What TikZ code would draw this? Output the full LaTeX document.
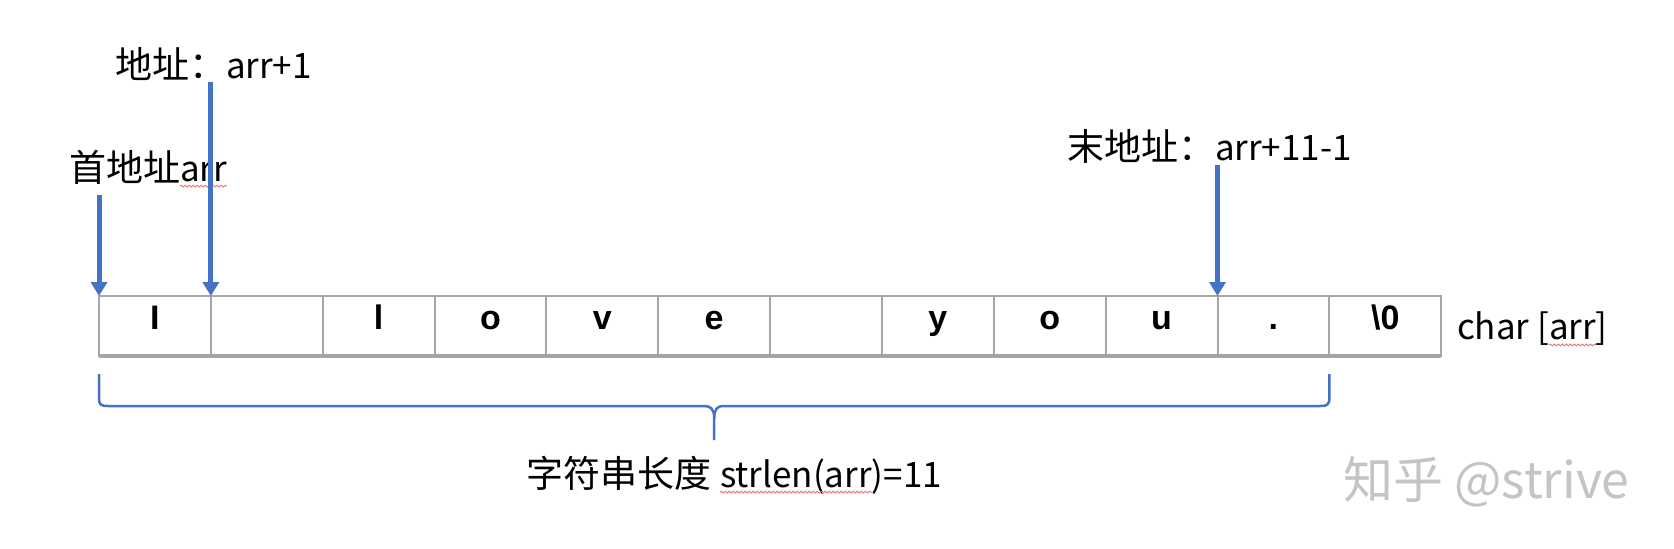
\documentclass[tikz,border=0pt]{standalone}
\usepackage{fontspec}
\setmainfont{Liberation Sans}
\newfontfamily\cjk{Noto Sans CJK SC}
\usetikzlibrary{arrows.meta,decorations.pathmorphing}
\definecolor{arrblue}{HTML}{4472C4}
\definecolor{cellgray}{HTML}{A6A6A6}
\definecolor{squigred}{HTML}{E07878}
\definecolor{wmgray}{HTML}{C4C4C4}
\newcommand\zhtxt[1]{{\fontsize{37}{40}\selectfont #1}}
\begin{document}
\begin{tikzpicture}[x=1pt,y=-1pt,
  cellbox/.style={draw=cellgray, line width=2pt, minimum width=111.85pt, minimum height=60pt,
    inner sep=0pt, outer sep=0pt, font=\fontsize{34}{40}\selectfont\bfseries,
    text height=0.72em, text depth=0pt},
  ptr/.style={draw=arrblue, line width=5pt, -{Triangle[width=16pt,length=14pt]}},
  lbl/.style={font=\cjk\fontsize{35}{40}\selectfont, inner sep=0pt, outer sep=0pt},
  squig/.style={draw=squigred, line width=0.9pt, decorate,
    decoration={snake, amplitude=0.9pt, segment length=4pt}},
  bracelinestyle/.style={draw=arrblue, line width=2.5pt}
]
\fill[white] (0,0) rectangle (1674,549);
\useasboundingbox (0,0) rectangle (1674,549);

% cells
\foreach \t [count=\i] in {I,{},l,o,v,e,{},y,o,u,.,\textbackslash0}
  \node[cellbox] (c\i) at ({99+111.85*(\i-0.5)},326) {\t};
\draw[cellgray, line width=4pt] (c1.south west) -- (c12.south east);

% labels
\node[lbl, anchor=west] (l1a) at (69,167) {\zhtxt{首地址}};
\node[lbl, anchor=base west] (l1b) at (l1a.base east) {arr};
\draw[squig] ([yshift=-5pt]l1b.base west) -- ([yshift=-5pt]l1b.base east);

\node[lbl, anchor=west] (l2) at (115,64) {\zhtxt{地址：}arr+1};
\node[lbl, anchor=west] (l3) at (1067,146) {\zhtxt{末地址：}arr+11-1};

\node[lbl, anchor=west] (chA) at (1457,329) {char [};
\node[lbl, anchor=base west] (chB) at (chA.base east) {arr};
\node[lbl, anchor=base west] (chC) at (chB.base east) {]};
\draw[squig] ([yshift=-5pt]chB.base west) -- ([yshift=-5pt]chB.base east);

\node[lbl, anchor=west] (sA) at (526,473) {\zhtxt{字符串长度}};
\node[lbl, anchor=base west] (sB) at ([xshift=9pt]sA.base east) {strlen(arr};
\node[lbl, anchor=base west] (sC) at (sB.base east) {)=11};
\draw[squig] ([yshift=-5pt]sB.base west) -- ([yshift=-5pt]sB.base east);

% watermark
\node[font=\cjk\fontsize{50}{54}\selectfont, text=wmgray, inner sep=0pt, anchor=west] (wm) at (1343,482) {知乎 @strive};

% pointers
\coordinate (p1) at (99,195);
\coordinate (p2) at (c2.north west |- 0,82);
\coordinate (p3) at (c11.north west |- 0,165);
\draw[ptr] (p1) -- (c1.north west);
\draw[ptr] (p2) -- (c2.north west);
\draw[ptr] (p3) -- (c11.north west);

% brace
\coordinate (bL) at (99,374);
\coordinate (bR) at (1329.35,374);
\coordinate (bT) at (714.2,440);
\draw[bracelinestyle] (bL) -- (99,398) .. controls (99,405) and (101,406) .. (108,406)
  -- (704,406) .. controls (711,406) and (714,409) .. (714.2,418) -- (bT);
\draw[bracelinestyle] (714.2,418) .. controls (714.4,409) and (717,406) .. (724,406)
  -- (1320,406) .. controls (1327,406) and (1329.35,405) .. (1329.35,398) -- (bR);
\end{tikzpicture}
\end{document}
